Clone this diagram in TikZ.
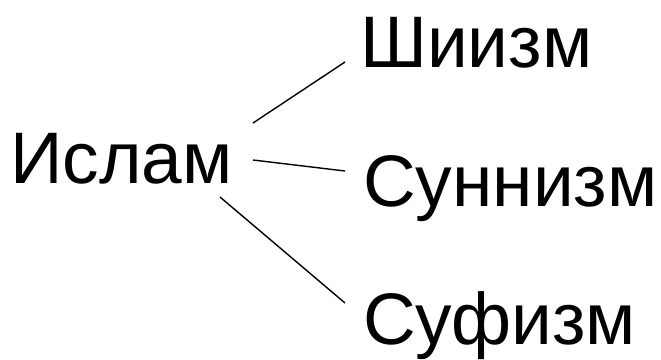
\documentclass[tikz,border=0pt]{standalone}
\usepackage{fontspec}
\setmainfont{Liberation Sans}
\usetikzlibrary{calc}
\begin{document}
\begin{tikzpicture}[x=1pt,y=-1pt,
  lbl/.style={anchor=base west,inner sep=0pt,font=\fontsize{73}{78}\selectfont},
  link/.style={line width=1.4pt,black}]
\useasboundingbox (0,0) rectangle (661,359);
\node[lbl] (islam) at (10,183) {Ислам};
\node[lbl] (shia) at (360,67) {Шиизм};
\node[lbl] (sunni) at (363,206) {Суннизм};
\node[lbl] (sufi) at (363,344) {Суфизм};
\draw[link] ($(islam.base west)+(243,-60)$) -- ($(shia.base west)+(-15,-5)$);
\draw[link] ($(islam.base west)+(243,-23)$) -- ($(sunni.base west)+(-18,-35)$);
\draw[link] ($(islam.base west)+(210,14)$) -- ($(sufi.base west)+(-18,-41)$);
\end{tikzpicture}
\end{document}
